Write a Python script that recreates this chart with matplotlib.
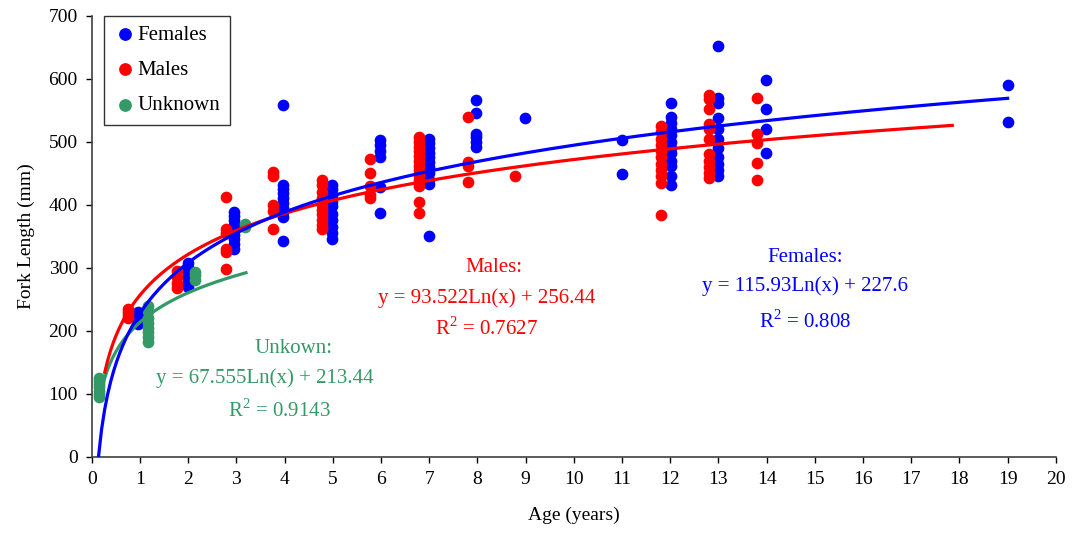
import numpy as np
import matplotlib
matplotlib.use("Agg")
import matplotlib.pyplot as plt

plt.rcParams['font.family'] = ['Liberation Serif', 'DejaVu Serif']
plt.rcParams['mathtext.fontset'] = 'custom'
plt.rcParams['mathtext.rm'] = 'Liberation Serif'

# ---- data ----
female_age = ([0.97] * 5 + [1.99] * 6 + [2.96] * 9 + [3.97] * 10 + [4.98] * 10
              + [5.98] * 6 + [7.0] * 11 + [7.97] * 6 + [8.99] + [11.0] * 2
              + [12.02] * 12 + [12.99] * 11 + [13.99] * 4 + [19.0] * 2)
female_len = ([210, 215, 220, 225, 230]
              + [270, 278, 285, 292, 300, 308]
              + [330, 338, 345, 352, 360, 368, 375, 382, 388]
              + [558, 342, 380, 388, 395, 402, 410, 418, 425, 432]
              + [432, 425, 415, 405, 398, 385, 375, 365, 355, 345]
              + [502, 495, 485, 475, 428, 387]
              + [505, 498, 490, 482, 475, 468, 460, 450, 440, 433, 350]
              + [566, 545, 513, 507, 500, 492]
              + [537]
              + [503, 449]
              + [561, 540, 530, 520, 510, 500, 490, 482, 470, 462, 445, 432]
              + [652, 570, 562, 538, 520, 505, 490, 475, 465, 455, 446]
              + [598, 552, 520, 482]
              + [590, 532])

male_age = ([0.76] * 4 + [1.76] * 4 + [2.78] * 6 + [3.75] * 5 + [4.77] * 10
            + [5.77] * 5 + [6.78] * 13 + [7.8] * 4 + [8.78]
            + [11.8] * 11 + [12.8] * 11 + [13.8] * 5)
male_len = ([220, 225, 230, 235]
            + [268, 275, 285, 295]
            + [412, 362, 355, 330, 325, 298]
            + [452, 446, 400, 390, 362]
            + [440, 432, 420, 410, 400, 392, 385, 375, 368, 362]
            + [472, 450, 430, 415, 410]
            + [508, 500, 492, 485, 478, 470, 462, 455, 448, 440, 430, 405, 387]
            + [539, 468, 462, 436]
            + [446]
            + [525, 515, 505, 495, 485, 475, 465, 455, 445, 435, 383]
            + [575, 568, 552, 528, 520, 505, 480, 470, 460, 450, 442]
            + [569, 513, 498, 466, 440])

unknown_age = [0.15] * 7 + [1.17] * 8 + [2.14] * 3 + [3.17] * 2
unknown_len = ([95, 100, 105, 110, 115, 120, 125]
               + [182, 190, 198, 205, 212, 220, 232, 240]
               + [280, 288, 293]
               + [365, 370])

# logarithmic trend lines as printed on the chart: (slope, intercept, x from, x to)
female_fit = [115.93, 227.6, 0.14, 19.0]
male_fit = [93.522, 256.44, 0.27, 17.85]
unknown_fit = [67.555, 213.44, 0.2, 3.2]

BLUE = '#0000ff'
RED = '#ff0000'
GREEN = '#339966'

fig = plt.figure(figsize=(10.73, 5.44), dpi=100)
ax = fig.add_axes([0.0855, 0.1605, 0.8985, 0.8105])

ax.scatter(female_age, female_len, s=55, color=BLUE, label='Females', zorder=3)
ax.scatter(male_age, male_len, s=55, color=RED, label='Males', zorder=3)
ax.scatter(unknown_age, unknown_len, s=55, color=GREEN, label='Unknown', zorder=3)

for fit, col in [(unknown_fit, GREEN), (male_fit, RED), (female_fit, BLUE)]:
    xs = np.linspace(fit[2], fit[3], 300)
    ax.plot(xs, fit[0] * np.log(xs) + fit[1], color=col, lw=2.3, zorder=4)

# equation labels
ax.text(8.35, 300, 'Males:', color=RED, ha='center', va='center', fontsize=15)
ax.text(8.2, 252, 'y = 93.522Ln(x) + 256.44', color=RED, ha='center', va='center', fontsize=15)
ax.text(8.2, 204, r'R$^2$ = 0.7627', color=RED, ha='center', va='center', fontsize=15)

ax.text(14.8, 317, 'Females:', color=BLUE, ha='center', va='center', fontsize=15)
ax.text(14.8, 270, 'y = 115.93Ln(x) + 227.6', color=BLUE, ha='center', va='center', fontsize=15)
ax.text(14.8, 215, r'R$^2$ = 0.808', color=BLUE, ha='center', va='center', fontsize=15)

ax.text(4.18, 171, 'Unkown:', color=GREEN, ha='center', va='center', fontsize=15)
ax.text(3.6, 125, 'y = 67.555Ln(x) + 213.44', color=GREEN, ha='center', va='center', fontsize=15)
ax.text(3.9, 74, r'R$^2$ = 0.9143', color=GREEN, ha='center', va='center', fontsize=15)

ax.set_xlim(0, 20)
ax.set_ylim(0, 700)
ax.set_xticks(range(0, 21))
ax.set_yticks(range(0, 701, 100))
ax.tick_params(direction='out', length=4, width=1, labelsize=14, pad=6)
for side in ['top', 'right']:
    ax.spines[side].set_visible(False)
for side in ['left', 'bottom']:
    ax.spines[side].set_color('#404040')
    ax.spines[side].set_linewidth(1.2)

ax.set_xlabel('Age (years)', fontsize=14, labelpad=14)
ax.set_ylabel('Fork Length (mm)', fontsize=14, labelpad=10)

leg = ax.legend(loc='upper left', bbox_to_anchor=(0.013, 1.0), borderaxespad=0,
                fontsize=15, frameon=True, fancybox=False, edgecolor='black',
                handletextpad=0.05, borderpad=0.45, labelspacing=0.75,
                handlelength=1.1, markerscale=1.1)
leg.get_frame().set_linewidth(1.0)

fig.savefig('out.png', dpi=100)
